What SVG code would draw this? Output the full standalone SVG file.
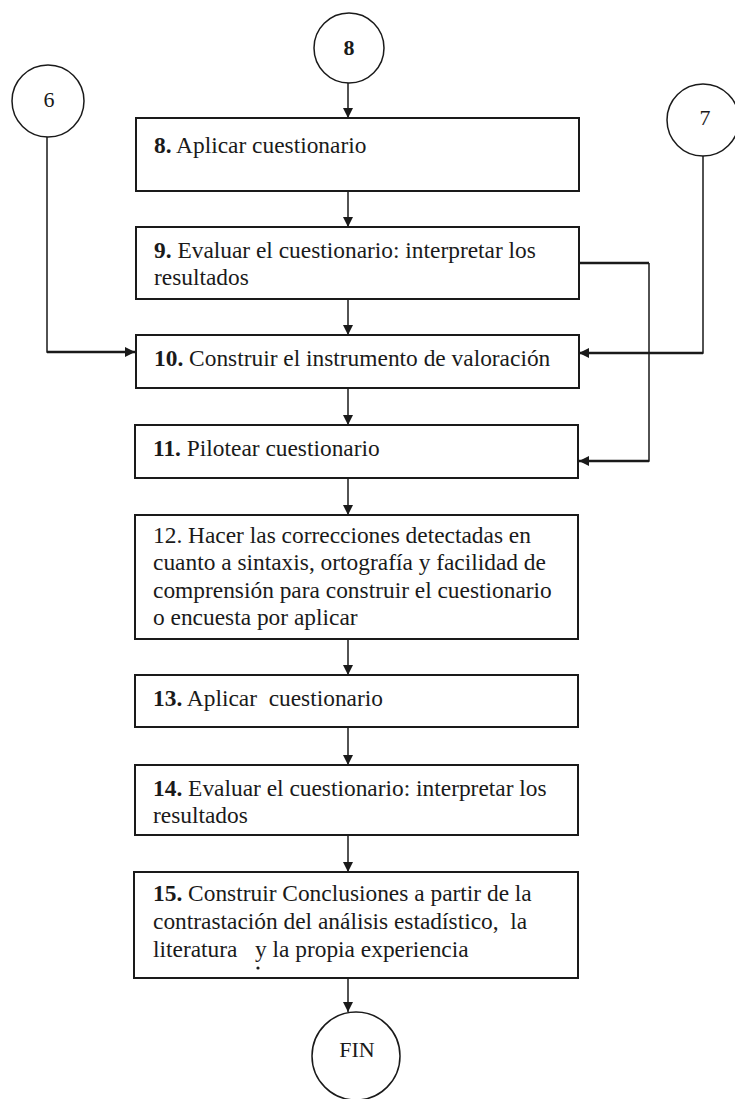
<svg xmlns="http://www.w3.org/2000/svg" width="735" height="1099" viewBox="0 0 735 1099">
  <defs>
    <style>
      .box { fill: #ffffff; stroke: #1a1a1a; stroke-width: 2; }
      .conn { fill: #ffffff; stroke: #1a1a1a; stroke-width: 1.5; }
      .t { font-family: "Liberation Serif", "Times New Roman", serif; font-size: 23.4px; fill: #1a1a1a; }
      .num { font-weight: bold; }
      .lbl { font-family: "Liberation Serif", "Times New Roman", serif; font-size: 22px; fill: #1a1a1a; text-anchor: middle; }
      .edge { fill: none; stroke: #1a1a1a; stroke-width: 1.5; }
      .edge-thick { fill: none; stroke: #1a1a1a; stroke-width: 2.6; }
    </style>
    <marker id="arrow" viewBox="0 0 10 10" refX="10" refY="5" markerWidth="10" markerHeight="10" markerUnits="userSpaceOnUse" orient="auto">
      <path d="M0,0 L10,5 L0,10 Z" fill="#1a1a1a"/>
    </marker>
  </defs>

  <rect width="735" height="1099" fill="#ffffff"/>

  <!-- connectors -->
  <g id="connectors">
    <line class="edge" x1="348" y1="83" x2="348" y2="118" marker-end="url(#arrow)"/>
    <line class="edge" x1="348" y1="191" x2="348" y2="227" marker-end="url(#arrow)"/>
    <line class="edge" x1="348" y1="299" x2="348" y2="335" marker-end="url(#arrow)"/>
    <line class="edge" x1="348" y1="388" x2="348" y2="425" marker-end="url(#arrow)"/>
    <line class="edge" x1="348" y1="478" x2="348" y2="515" marker-end="url(#arrow)"/>
    <line class="edge" x1="348" y1="639" x2="348" y2="675" marker-end="url(#arrow)"/>
    <line class="edge" x1="348" y1="727" x2="348" y2="765" marker-end="url(#arrow)"/>
    <line class="edge" x1="348" y1="835" x2="348" y2="872" marker-end="url(#arrow)"/>
    <line class="edge" x1="348" y1="978" x2="348" y2="1012" marker-end="url(#arrow)"/>
    <!-- from connector 6 into step 10 -->
    <polyline class="edge" points="47,137 47,352 60,352"/>
    <line class="edge-thick" x1="47" y1="352" x2="135" y2="352" marker-end="url(#arrow)"/>
    <!-- from connector 7 into step 10 -->
    <polyline class="edge" points="703,156 703,353 690,353"/>
    <line class="edge-thick" x1="703" y1="353" x2="579" y2="353" marker-end="url(#arrow)"/>
    <!-- step 9 loop back into step 11 -->
    <polyline class="edge-thick" points="579,263 649,263"/>
    <polyline class="edge" points="649,263 649,461 640,461"/>
    <line class="edge-thick" x1="649" y1="461" x2="579" y2="461" marker-end="url(#arrow)"/>
  </g>

  <!-- off-page connectors -->
  <g id="c8">
    <circle class="conn" cx="349" cy="48" r="35"/>
    <text class="lbl num" x="349" y="55">8</text>
  </g>
  <g id="c6">
    <circle class="conn" cx="48" cy="101" r="36"/>
    <text class="lbl" x="49" y="107">6</text>
  </g>
  <g id="c7">
    <circle class="conn" cx="703" cy="120" r="36"/>
    <text class="lbl" x="705" y="125">7</text>
  </g>

  <!-- process steps -->
  <g id="s8">
    <rect class="box" x="136" y="118" width="443" height="73"/>
    <text class="t" x="154" y="153"><tspan class="num">8.</tspan> Aplicar cuestionario</text>
  </g>
  <g id="s9">
    <rect class="box" x="136" y="227" width="443" height="72"/>
    <text class="t" x="154" y="258"><tspan class="num">9.</tspan> Evaluar el cuestionario: interpretar los</text>
    <text class="t" x="154" y="285">resultados</text>
  </g>
  <g id="s10">
    <rect class="box" x="136" y="335" width="443" height="53"/>
    <text class="t" x="154" y="366"><tspan class="num">10.</tspan> Construir el instrumento de valoración</text>
  </g>
  <g id="s11">
    <rect class="box" x="135" y="425" width="443" height="53"/>
    <text class="t" x="153" y="456"><tspan class="num">11.</tspan> Pilotear cuestionario</text>
  </g>
  <g id="s12">
    <rect class="box" x="135" y="515" width="443" height="124"/>
    <text class="t" x="153" y="543">12. Hacer las correcciones detectadas en</text>
    <text class="t" x="153" y="570">cuanto a sintaxis, ortografía y facilidad de</text>
    <text class="t" x="153" y="598">comprensión para construir el cuestionario</text>
    <text class="t" x="153" y="625">o encuesta por aplicar</text>
  </g>
  <g id="s13">
    <rect class="box" x="135" y="675" width="443" height="52"/>
    <text class="t" x="153" y="706" xml:space="preserve"><tspan class="num">13.</tspan> Aplicar  cuestionario</text>
  </g>
  <g id="s14">
    <rect class="box" x="135" y="765" width="443" height="70"/>
    <text class="t" x="153" y="796"><tspan class="num">14.</tspan> Evaluar el cuestionario: interpretar los</text>
    <text class="t" x="153" y="823">resultados</text>
  </g>
  <g id="s15">
    <rect class="box" x="134" y="872" width="444" height="106"/>
    <text class="t" x="153" y="901"><tspan class="num">15.</tspan> Construir Conclusiones a partir de la</text>
    <text class="t" x="153" y="929" xml:space="preserve">contrastación del análisis estadístico,  la</text>
    <text class="t" x="153" y="957" xml:space="preserve">literatura   y la propia experiencia</text>
    <circle cx="258" cy="968" r="1.6" fill="#1a1a1a"/>
  </g>

  <!-- terminator -->
  <g id="fin">
    <circle class="conn" cx="356" cy="1056" r="44"/>
    <text class="lbl" x="357" y="1057">FIN</text>
  </g>
</svg>
